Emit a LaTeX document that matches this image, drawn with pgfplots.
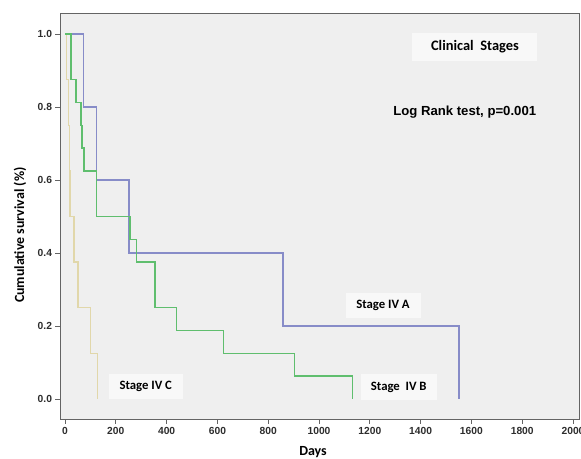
\documentclass[border=0pt]{standalone}
\usepackage{fontspec}
\setmainfont{Carlito}
\newfontfamily\arialf{Liberation Sans}
\usepackage{pgfplots}
\pgfplotsset{compat=1.18}
\definecolor{bgc}{RGB}{239,239,239}
\definecolor{boxc}{RGB}{248,248,248}
\definecolor{framec}{RGB}{100,100,100}
\definecolor{tickc}{RGB}{45,45,45}
\definecolor{cA}{RGB}{135,140,200}
\definecolor{cB}{RGB}{95,190,110}
\definecolor{cC}{RGB}{225,215,170}
\begin{document}
\begin{tikzpicture}
\useasboundingbox (-60bp,-40bp) rectangle (521bp,419bp);
\begin{axis}[
  at={(0,0)}, anchor=south west,
  scale only axis, width=519bp, height=405bp,
  xmin=-19.7, xmax=2023.6, ymin=-0.0548, ymax=1.0548,
  axis background/.style={fill=bgc},
  axis line style={draw=framec, line width=1bp},
  xtick={0,200,400,600,800,1000,1200,1400,1600,1800,2000},
  ytick={0,0.2,0.4,0.6,0.8,1.0},
  tick align=outside, tick pos=left,
  major tick length=4.5bp,
  tick style={draw=framec, line width=0.8bp},
  ticklabel style={font=\arialf\bfseries\fontsize{10.3}{11}\selectfont, text=tickc},
  /pgf/number format/assume math mode=true,
  yticklabel style={/pgf/number format/.cd, fixed, fixed zerofill, precision=1},
  xticklabel style={/pgf/number format/.cd, fixed, set thousands separator={}},
  scaled ticks=false,
  xlabel={Days}, ylabel={Cumulative survival (\%)},
  xlabel style={font=\bfseries\fontsize{14}{15}\selectfont, at={(axis description cs:0.4875,-0.0889)}, anchor=base},
  ylabel style={font=\bfseries\fontsize{14}{15}\selectfont, at={(axis description cs:-0.077,0.454)}, anchor=center},
  every axis plot/.append style={line width=1.4bp},
]
\addplot[const plot, color=cC] coordinates {
 (0,1) (7,0.875) (13,0.75) (17,0.625) (20,0.5) (35,0.375) (51,0.25) (101,0.125) (127,0)
};
\addplot[const plot, color=cA] coordinates {
 (0,1) (72,0.8) (125,0.6) (252,0.4) (858,0.2) (1551,0)
};
\addplot[const plot, color=cB] coordinates {
 (0,1) (24,0.875) (43,0.8125) (63,0.75) (67,0.6875) (75,0.625) (124,0.5) (256,0.4375) (282,0.375) (354,0.25) (440,0.1875) (623,0.125) (903,0.0625) (1131,0)
};
\node[fill=boxc, minimum width=125bp, minimum height=28bp, inner sep=0pt, font=\bfseries\fontsize{14.5}{15}\selectfont] at (axis cs:1614,0.9644) {Clinical\ \ Stages};
\node[anchor=base, font=\arialf\bfseries\fontsize{13.2}{14}\selectfont] at (axis cs:1573.6,0.776) {Log Rank test, p=0.001};
\node[fill=boxc, minimum width=75bp, minimum height=25bp, inner sep=0pt, font=\bfseries\fontsize{12.8}{13}\selectfont] at (axis cs:1252,0.256) {Stage IV A};
\node[fill=boxc, minimum width=76bp, minimum height=26bp, inner sep=0pt, font=\bfseries\fontsize{12.8}{13}\selectfont] at (axis cs:1314,0.0329) {Stage\ \ IV B};
\node[fill=boxc, minimum width=74bp, minimum height=25bp, inner sep=0pt, font=\bfseries\fontsize{12.8}{13}\selectfont] at (axis cs:318,0.0342) {Stage IV C};
\end{axis}
\end{tikzpicture}
\end{document}
